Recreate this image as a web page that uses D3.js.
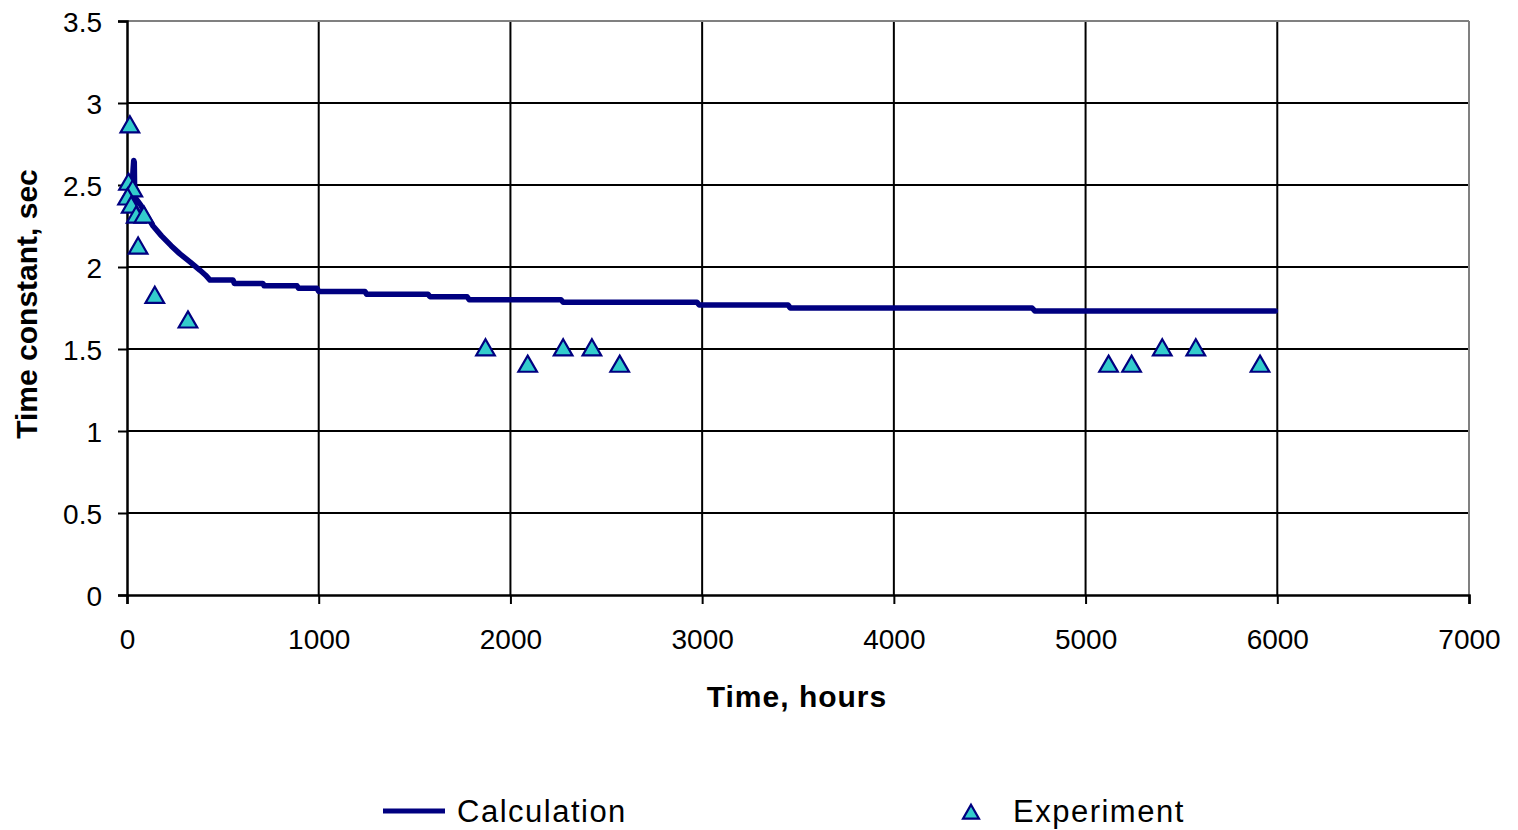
<!DOCTYPE html>
<html>
<head>
<meta charset="utf-8">
<script src="https://cdn.jsdelivr.net/npm/d3@7"></script>
<style>
  html, body { margin: 0; padding: 0; background: #fff; }
  svg { display: block; font-family: "Liberation Sans", Arial, sans-serif; }
</style>
</head>
<body>
<svg id="chart" width="1518" height="830"></svg>
<script>
// ---- Data ----
const xTicks = [0, 1000, 2000, 3000, 4000, 5000, 6000, 7000];
const yTicks = [0, 0.5, 1, 1.5, 2, 2.5, 3, 3.5];

const calcTime = [28, 32, 35, 38, 40, 45, 70, 100, 136, 180, 230, 276, 330, 381, 410, 433,
                  553, 560, 709, 715, 887, 895, 991, 1000, 1241, 1250, 1570, 1580, 1774, 1785,
                  2264, 2275, 2973, 2985, 3448, 3460, 4721, 4735, 5990];
const calcValue = [2.52, 2.60, 2.65, 2.64, 2.45, 2.42, 2.38, 2.32, 2.25, 2.19, 2.13, 2.08, 2.03, 1.98, 1.95, 1.92,
                   1.92, 1.90, 1.90, 1.885, 1.885, 1.87, 1.87, 1.851, 1.851, 1.834, 1.834, 1.819, 1.819, 1.80,
                   1.80, 1.785, 1.785, 1.768, 1.768, 1.75, 1.75, 1.732, 1.732];

const expTime = [15, 8, 30, 3, 22, 48, 88, 58, 145, 318, 1870, 2090, 2275, 2425, 2570, 5120, 5240, 5400, 5575, 5910];
const expValue = [2.86, 2.51, 2.47, 2.42, 2.37, 2.31, 2.31, 2.12, 1.82, 1.67, 1.5, 1.4, 1.5, 1.5, 1.4, 1.4, 1.4, 1.5, 1.5, 1.4];

const seriesNames = ["Calculation", "Experiment"];

(function () {
// ---- Layout ----
const svg = d3.select("#chart");
const pL = 127, pR = 1469, pT = 21, pB = 595;
const x = d3.scaleLinear().domain([0, 7000]).range([pL, pR]);
const y = d3.scaleLinear().domain([0, 3.5]).range([pB, pT]);

const navy = "#000080", teal = "#33CCCC";

// gridlines
const g = svg.append("g");
g.selectAll(".hg").data(yTicks.filter(d => d > 0 && d < 3.5)).enter().append("line")
  .attr("x1", pL).attr("x2", pR).attr("y1", d => y(d)).attr("y2", d => y(d))
  .attr("stroke", "#000").attr("stroke-width", 2);
g.selectAll(".vg").data(xTicks.filter(d => d > 0 && d < 7000)).enter().append("line")
  .attr("y1", pT).attr("y2", pB).attr("x1", d => x(d)).attr("x2", d => x(d))
  .attr("stroke", "#000").attr("stroke-width", 2);

// top and right borders (gray)
svg.append("line").attr("x1", pL).attr("x2", pR).attr("y1", pT).attr("y2", pT)
  .attr("stroke", "#808080").attr("stroke-width", 2);
svg.append("line").attr("x1", pR).attr("x2", pR).attr("y1", pT).attr("y2", pB)
  .attr("stroke", "#808080").attr("stroke-width", 2);

// axes
const yAxis = d3.axisLeft(y).tickValues(yTicks).tickSize(9).tickPadding(16)
  .tickFormat(d => String(d));
const xAxis = d3.axisBottom(x).tickValues(xTicks).tickSize(9).tickPadding(24)
  .tickFormat(d => String(d));

const ya = svg.append("g").attr("transform", `translate(${pL},0)`).call(yAxis);
const xa = svg.append("g").attr("transform", `translate(0,${pB})`).call(xAxis);
[ya, xa].forEach(a => {
  a.select(".domain").attr("stroke", "#000").attr("stroke-width", 2.5);
  a.selectAll(".tick line").attr("stroke", "#000").attr("stroke-width", 2);
  a.selectAll(".tick text").attr("fill", "#000").style("font-size", "28px")
    .style("font-family", "'Liberation Sans', Arial, sans-serif");
});
ya.selectAll(".tick text").attr("dy", "0.36em");
xa.selectAll(".tick text").attr("dy", "0.76em");

// calculation line
const calcData = calcTime.map((t, i) => [t, calcValue[i]]);
svg.append("path").datum(calcData)
  .attr("d", d3.line().x(d => x(d[0])).y(d => y(d[1])))
  .attr("fill", "none").attr("stroke", navy).attr("stroke-width", 5.5)
  .attr("stroke-linejoin", "round").attr("stroke-linecap", "round");

// experiment markers
const tri = d3.symbol().type(d3.symbolTriangle).size(150);
const expData = expTime.map((t, i) => [t, expValue[i]]);
svg.selectAll(".exp").data(expData).enter().append("path")
  .attr("d", tri)
  .attr("transform", d => `translate(${x(d[0])},${y(d[1]) + 1})`)
  .attr("fill", teal).attr("stroke", navy).attr("stroke-width", 2.2);

// axis titles
svg.append("text").attr("x", 797).attr("y", 707).attr("text-anchor", "middle")
  .style("font-size", "30px").style("font-weight", "bold").style("letter-spacing", "1px")
  .text("Time, hours");
svg.append("text").attr("transform", "translate(37,304) rotate(-90)").attr("text-anchor", "middle")
  .style("font-size", "30px").style("font-weight", "bold")
  .text("Time constant, sec");

// legend
const lg = svg.append("g");
lg.append("line").attr("x1", 383).attr("x2", 445).attr("y1", 811).attr("y2", 811)
  .attr("stroke", navy).attr("stroke-width", 5);
lg.append("text").attr("x", 457).attr("y", 822).style("font-size", "31px")
  .style("letter-spacing", "1.5px").text(seriesNames[0]);
lg.append("path").attr("d", d3.symbol().type(d3.symbolTriangle).size(110))
  .attr("transform", "translate(971,814)")
  .attr("fill", teal).attr("stroke", navy).attr("stroke-width", 2.2);
lg.append("text").attr("x", 1013).attr("y", 822).style("font-size", "31px")
  .style("letter-spacing", "1.5px").text(seriesNames[1]);
})();
</script>
</body>
</html>
